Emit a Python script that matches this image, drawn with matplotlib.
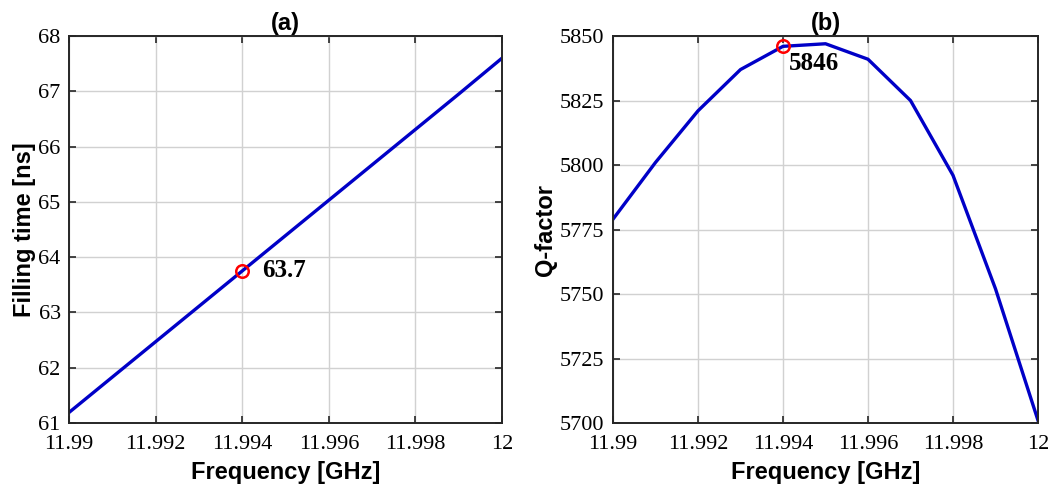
import matplotlib.pyplot as plt
import numpy as np

# data
freq_ghz = [11.990, 11.991, 11.992, 11.993, 11.994, 11.995, 11.996, 11.997, 11.998, 11.999, 12.000]
filling_time_ns = [61.19, 61.83, 62.47, 63.11, 63.75, 64.39, 65.03, 65.67, 66.31, 66.95, 67.60]
q_factor = [5779, 5801, 5821, 5837, 5846, 5847, 5841, 5825, 5796, 5752, 5701]

marker_freq = 11.994
marker_fill = 63.75
marker_fill_label = "63.7"
marker_q = 5846
marker_q_label = "5846"

x_ticks = [11.99, 11.992, 11.994, 11.996, 11.998, 12.0]
x_ticklabels = ["11.99", "11.992", "11.994", "11.996", "11.998", "12"]
fill_ticks = [61, 62, 63, 64, 65, 66, 67, 68]
q_ticks = [5700, 5725, 5750, 5775, 5800, 5825, 5850]

serif = "Liberation Serif"
sans = "Liberation Sans"
line_col = (0.0, 0.0, 0.78)


def style_axis(ax):
    ax.set_xlim(11.99, 12.0)
    ax.set_xticks(x_ticks)
    ax.set_xticklabels(x_ticklabels)
    ax.tick_params(direction="in", top=True, right=True, length=5, width=1.2,
                   labelsize=16, color="0.15")
    ax.tick_params(axis="x", pad=9)
    ax.tick_params(axis="y", pad=6)
    for lab in ax.get_xticklabels() + ax.get_yticklabels():
        lab.set_fontfamily(serif)
    for sp in ax.spines.values():
        sp.set_linewidth(1.4)
        sp.set_color("0.15")
    ax.grid(True, color="0.82", linewidth=1.0)
    ax.set_axisbelow(True)
    ax.set_xlabel("Frequency [GHz]", fontfamily=sans, fontweight="bold", fontsize=17, labelpad=5)


fig = plt.figure(figsize=(10.58, 4.88), dpi=100)
ax1 = fig.add_axes([0.0652, 0.1332, 0.4093, 0.7930])
ax2 = fig.add_axes([0.5794, 0.1332, 0.4017, 0.7930])

# (a) filling time
ax1.plot(freq_ghz, filling_time_ns, color=line_col, linewidth=2.4)
ax1.plot(marker_freq, marker_fill, "o", mfc="none", mec="red", ms=9, mew=1.8)
ax1.annotate(marker_fill_label, (marker_freq, marker_fill), xytext=(14, 0),
             textcoords="offset points", va="center", ha="left",
             fontfamily=serif, fontweight="bold", fontsize=18)
ax1.set_ylim(61, 68)
ax1.set_yticks(fill_ticks)
style_axis(ax1)
ax1.set_ylabel("Filling time [ns]", fontfamily=sans, fontweight="bold", fontsize=17, labelpad=2)
ax1.set_title("(a)", fontfamily=sans, fontweight="bold", fontsize=17, pad=4)

# (b) Q-factor
ax2.plot(freq_ghz, q_factor, color=line_col, linewidth=2.4)
ax2.plot(marker_freq, marker_q, "o", mfc="none", mec="red", ms=9, mew=1.8)
ax2.annotate(marker_q_label, (marker_freq, marker_q), xytext=(4, -12),
             textcoords="offset points", va="center", ha="left",
             fontfamily=serif, fontweight="bold", fontsize=18)
ax2.set_ylim(5700, 5850)
ax2.set_yticks(q_ticks)
style_axis(ax2)
ax2.set_ylabel("Q-factor", fontfamily=sans, fontweight="bold", fontsize=17, labelpad=2)
ax2.set_title("(b)", fontfamily=sans, fontweight="bold", fontsize=17, pad=4)

fig.savefig("out.png", dpi=100)
